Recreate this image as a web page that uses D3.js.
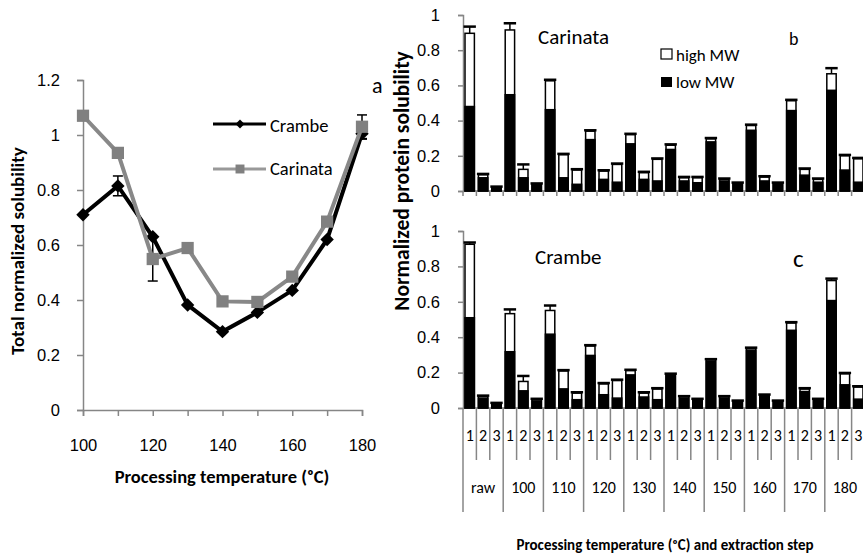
<!DOCTYPE html>
<html lang="en">
<head>
    <meta charset="UTF-8">
    <title>Protein solubility</title>
    <script src="https://cdn.jsdelivr.net/npm/d3@7"></script>
    <style>
        body { margin: 0; background: #fff; }
        svg { font-family: Calibri, Carlito, Lato, sans-serif; }
        .axis path, .axis line { fill: none; stroke: #868686; stroke-width: 1.5; }
        .axis text { font-size: 16.5px; fill: #000; }
        .title { font-weight: bold; }
    </style>
</head>
<body>
<script>
    // ---- data: left panel (total normalized solubility) ----
    var temps = [100, 110, 120, 130, 140, 150, 160, 170, 180];
    var crambeTotal = [0.71, 0.815, 0.63, 0.382, 0.285, 0.355, 0.435, 0.62, 1.005];
    var crambeTotalErr = [0, 0.036, 0, 0, 0, 0, 0, 0, 0.02];
    var carinataTotal = [1.07, 0.935, 0.549, 0.589, 0.395, 0.393, 0.485, 0.685, 1.03];
    var carinataTotalErr = [0, 0, 0.08, 0, 0, 0, 0, 0, 0.043];
    var yTicksLeft = [0, 0.2, 0.4, 0.6, 0.8, 1, 1.2];

    // ---- data: right panels (by extraction step) ----
    var groups = ["raw", "100", "110", "120", "130", "140", "150", "160", "170", "180"];
    var steps = ["1", "2", "3"];
    var carinataSum = [0.896, 0.092, 0.02, 0.915, 0.123, 0.038, 0.626, 0.206, 0.119, 0.34,
        0.113, 0.151, 0.32, 0.104, 0.18, 0.26, 0.075, 0.075, 0.296, 0.066,
        0.043, 0.372, 0.079, 0.043, 0.513, 0.123, 0.066, 0.666, 0.2, 0.183];
    var carinataLow = [0.48, 0.075, 0.02, 0.547, 0.075, 0.035, 0.462, 0.075, 0.038, 0.292,
        0.066, 0.05, 0.268, 0.066, 0.057, 0.236, 0.057, 0.047, 0.279, 0.057,
        0.043, 0.345, 0.057, 0.043, 0.457, 0.09, 0.05, 0.572, 0.119, 0.05];
    var carinataErr = [0.038, 0.005, 0.005, 0.038, 0.028, 0.005, 0.006, 0.005, 0.005, 0.005,
        0.005, 0.005, 0.005, 0.005, 0.005, 0.005, 0.005, 0.005, 0.005, 0.005,
        0.005, 0.005, 0.005, 0.005, 0.005, 0.005, 0.005, 0.032, 0.005, 0.005];
    var crambeSum = [0.925, 0.065, 0.024, 0.533, 0.15, 0.047, 0.551, 0.209, 0.084, 0.35,
        0.136, 0.155, 0.211, 0.084, 0.107, 0.189, 0.062, 0.047, 0.271, 0.062,
        0.037, 0.336, 0.071, 0.037, 0.48, 0.107, 0.047, 0.72, 0.193, 0.118];
    var crambeLow = [0.51, 0.056, 0.024, 0.318, 0.097, 0.04, 0.417, 0.108, 0.047, 0.297,
        0.075, 0.056, 0.187, 0.062, 0.047, 0.185, 0.055, 0.042, 0.264, 0.055,
        0.037, 0.327, 0.065, 0.037, 0.439, 0.093, 0.047, 0.607, 0.131, 0.05];
    var crambeErr = [0.01, 0.005, 0.005, 0.024, 0.031, 0.005, 0.028, 0.005, 0.005, 0.005,
        0.005, 0.005, 0.005, 0.005, 0.005, 0.005, 0.005, 0.005, 0.005, 0.005,
        0.005, 0.005, 0.005, 0.005, 0.005, 0.005, 0.005, 0.011, 0.005, 0.005];
    var yTicksRight = [0, 0.2, 0.4, 0.6, 0.8, 1];

    var width = 863, height = 556;
    var svg = d3.select("body").append("svg")
        .attr("width", width)
        .attr("height", height);
    svg.append("rect").attr("width", width).attr("height", height).attr("fill", "#fff");

    // ================= left panel =================
    var xL = d3.scaleLinear().domain([100, 180]).range([83, 362]);
    var yL = d3.scaleLinear().domain([0, 1.2]).range([410, 80]);

    svg.append("g")
        .attr("class", "axis")
        .attr("transform", "translate(0,410)")
        .call(d3.axisBottom(xL).tickValues(d3.range(100, 181, 10)).tickSizeOuter(0)
            .tickSize(6).tickPadding(23)
            .tickFormat(function (d) { return d % 20 === 0 ? d : ""; }));
    svg.append("g")
        .attr("class", "axis")
        .attr("transform", "translate(83,0)")
        .call(d3.axisLeft(yL).tickValues(yTicksLeft).tickSizeOuter(0)
            .tickSize(6).tickPadding(17)
            .tickFormat(function (d) { return String(d); }));

    svg.append("text").attr("class", "title").attr("font-size", 18.5)
        .attr("x", 222).attr("y", 483).attr("text-anchor", "middle")
        .text("Processing temperature (\u1d52C)");
    svg.append("text").attr("class", "title").attr("font-size", 19)
        .attr("transform", "translate(24,251) rotate(-90)").attr("text-anchor", "middle")
        .text("Total normalized solubility");

    function drawErr(values, errs) {
        temps.forEach(function (t, i) {
            if (!errs[i]) return;
            var x = xL(t), y1 = yL(values[i] - errs[i]), y2 = yL(values[i] + errs[i]);
            svg.append("line").attr("x1", x).attr("x2", x).attr("y1", y1).attr("y2", y2)
                .attr("stroke", "#000").attr("stroke-width", 1.5);
            [y1, y2].forEach(function (y) {
                svg.append("line").attr("x1", x - 5).attr("x2", x + 5).attr("y1", y).attr("y2", y)
                    .attr("stroke", "#000").attr("stroke-width", 1.5);
            });
        });
    }
    drawErr(crambeTotal, crambeTotalErr);
    drawErr(carinataTotal, carinataTotalErr);

    var lineL = d3.line()
        .x(function (d, i) { return xL(temps[i]); })
        .y(function (d) { return yL(d); });

    svg.append("path").datum(crambeTotal).attr("d", lineL)
        .attr("fill", "none").attr("stroke", "#000").attr("stroke-width", 4);
    svg.selectAll(".diam").data(crambeTotal).enter().append("path")
        .attr("class", "diam")
        .attr("d", d3.symbol(d3.symbolSquare, 90)())
        .attr("transform", function (d, i) { return "translate(" + xL(temps[i]) + "," + yL(d) + ") rotate(45)"; })
        .attr("fill", "#000");

    svg.append("path").datum(carinataTotal).attr("d", lineL)
        .attr("fill", "none").attr("stroke", "#888").attr("stroke-width", 4);
    svg.selectAll(".sq").data(carinataTotal).enter().append("path")
        .attr("class", "sq")
        .attr("d", d3.symbol(d3.symbolSquare, 150)())
        .attr("transform", function (d, i) { return "translate(" + xL(temps[i]) + "," + yL(d) + ")"; })
        .attr("fill", "#808080");

    // legend
    var legL = svg.append("g");
    legL.append("line").attr("x1", 213).attr("x2", 266).attr("y1", 124).attr("y2", 124)
        .attr("stroke", "#000").attr("stroke-width", 3);
    legL.append("path").attr("d", d3.symbol(d3.symbolSquare, 40)())
        .attr("transform", "translate(240,124) rotate(45)").attr("fill", "#000");
    legL.append("text").attr("x", 270).attr("y", 132).attr("font-size", 18.5).text("Crambe");
    legL.append("line").attr("x1", 213).attr("x2", 266).attr("y1", 169).attr("y2", 169)
        .attr("stroke", "#999").attr("stroke-width", 3);
    legL.append("path").attr("d", d3.symbol(d3.symbolSquare, 80)())
        .attr("transform", "translate(240,169)").attr("fill", "#808080");
    legL.append("text").attr("x", 270).attr("y", 175).attr("font-size", 18.5).text("Carinata");
    svg.append("text").attr("x", 372).attr("y", 93).attr("font-size", 22).text("a");

    // ================= right panels =================
    var cats = [];
    groups.forEach(function (g) { steps.forEach(function (s) { cats.push(g + "|" + s); }); });
    var xR = d3.scaleBand().domain(cats).range([463, 865]).paddingInner(0.3).paddingOuter(0.15);
    var half = (xR.step() - xR.bandwidth()) / 2;

    function panel(y0, y1, sums, lows, errs) {
        var y = d3.scaleLinear().domain([0, 1]).range([y0, y1]);
        svg.append("g")
            .attr("class", "axis")
            .attr("transform", "translate(463,0)")
            .call(d3.axisLeft(y).tickValues(yTicksRight).tickSizeOuter(0)
                .tickSize(5).tickPadding(18)
                .tickFormat(function (d) { return String(d); }));
        svg.append("line").attr("x1", 463).attr("x2", 865).attr("y1", y0).attr("y2", y0)
            .attr("stroke", "#868686").attr("stroke-width", 1.5);

        var g = svg.append("g");
        // error bars
        g.selectAll(".ev").data(cats).enter().append("line")
            .attr("x1", function (d) { return xR(d) + xR.bandwidth() / 2; })
            .attr("x2", function (d) { return xR(d) + xR.bandwidth() / 2; })
            .attr("y1", function (d, i) { return y(sums[i]); })
            .attr("y2", function (d, i) { return y(sums[i] + errs[i]); })
            .attr("stroke", "#000").attr("stroke-width", 1.5);
        // high MW (total) as white bar
        g.selectAll(".hi").data(cats).enter().append("rect")
            .attr("x", function (d) { return xR(d); })
            .attr("y", function (d, i) { return y(sums[i]); })
            .attr("width", xR.bandwidth())
            .attr("height", function (d, i) { return y0 - y(sums[i]); })
            .attr("fill", "#fff").attr("stroke", "#000").attr("stroke-width", 1.5);
        // low MW black bar
        g.selectAll(".lo").data(cats).enter().append("rect")
            .attr("x", function (d) { return xR(d); })
            .attr("y", function (d, i) { return y(lows[i]); })
            .attr("width", xR.bandwidth())
            .attr("height", function (d, i) { return y0 - y(lows[i]); })
            .attr("fill", "#000").attr("stroke", "#000").attr("stroke-width", 1.5);
        // caps
        g.selectAll(".cap").data(cats).enter().append("line")
            .attr("x1", function (d) { return xR(d) - 1.5; })
            .attr("x2", function (d) { return xR(d) + xR.bandwidth() + 1.5; })
            .attr("y1", function (d, i) { return y(sums[i] + errs[i]); })
            .attr("y2", function (d, i) { return y(sums[i] + errs[i]); })
            .attr("stroke", "#000").attr("stroke-width", 2.5);
        return y;
    }

    panel(191, 15, carinataSum, carinataLow, carinataErr);
    panel(408, 231, crambeSum, crambeLow, crambeErr);

    // short ticks under top panel
    svg.selectAll(".tkb").data(cats).enter().append("line")
        .attr("x1", function (d) { return xR(d) - half; })
        .attr("x2", function (d) { return xR(d) - half; })
        .attr("y1", 191).attr("y2", 196)
        .attr("stroke", "#868686").attr("stroke-width", 1.5);

    // multi-level category axis under bottom panel
    svg.selectAll(".tkc").data(cats).enter().append("line")
        .attr("x1", function (d) { return xR(d) - half; })
        .attr("x2", function (d) { return xR(d) - half; })
        .attr("y1", 408)
        .attr("y2", function (d) { return d.split("|")[1] === "1" ? 512 : 460; })
        .attr("stroke", "#868686").attr("stroke-width", 1.5);
    svg.selectAll(".stepLab").data(cats).enter().append("text")
        .attr("x", function (d) { return xR(d) + xR.bandwidth() / 2; })
        .attr("y", 441).attr("text-anchor", "middle").attr("font-size", 16)
        .text(function (d) { return d.split("|")[1]; });
    svg.selectAll(".grpLab").data(groups).enter().append("text")
        .attr("x", function (d) { return xR(d + "|2") + xR.bandwidth() / 2; })
        .attr("y", 493).attr("text-anchor", "middle").attr("font-size", 16)
        .text(function (d) { return d; });

    svg.append("text").attr("class", "title").attr("font-size", 15)
        .attr("x", 665).attr("y", 550).attr("text-anchor", "middle")
        .text("Processing temperature (\u1d52C) and extraction step");
    svg.append("text").attr("class", "title").attr("font-size", 21.5)
        .attr("transform", "translate(409,181) rotate(-90)").attr("text-anchor", "middle")
        .text("Normalized protein solubility");

    // panel labels + legend
    svg.append("text").attr("x", 538).attr("y", 44).attr("font-size", 21).text("Carinata");
    svg.append("text").attr("x", 789).attr("y", 45).attr("font-size", 18).text("b");
    svg.append("text").attr("x", 535).attr("y", 264).attr("font-size", 21).text("Crambe");
    svg.append("text").attr("x", 793).attr("y", 267).attr("font-size", 25).text("c");

    svg.append("rect").attr("x", 661).attr("y", 49).attr("width", 11).attr("height", 10)
        .attr("fill", "#fff").attr("stroke", "#000").attr("stroke-width", 1.2);
    svg.append("text").attr("x", 676).attr("y", 61).attr("font-size", 17).text("high MW");
    svg.append("rect").attr("x", 661).attr("y", 77).attr("width", 11).attr("height", 10)
        .attr("fill", "#000");
    svg.append("text").attr("x", 676).attr("y", 88).attr("font-size", 17).text("low MW");
</script>
</body>
</html>
